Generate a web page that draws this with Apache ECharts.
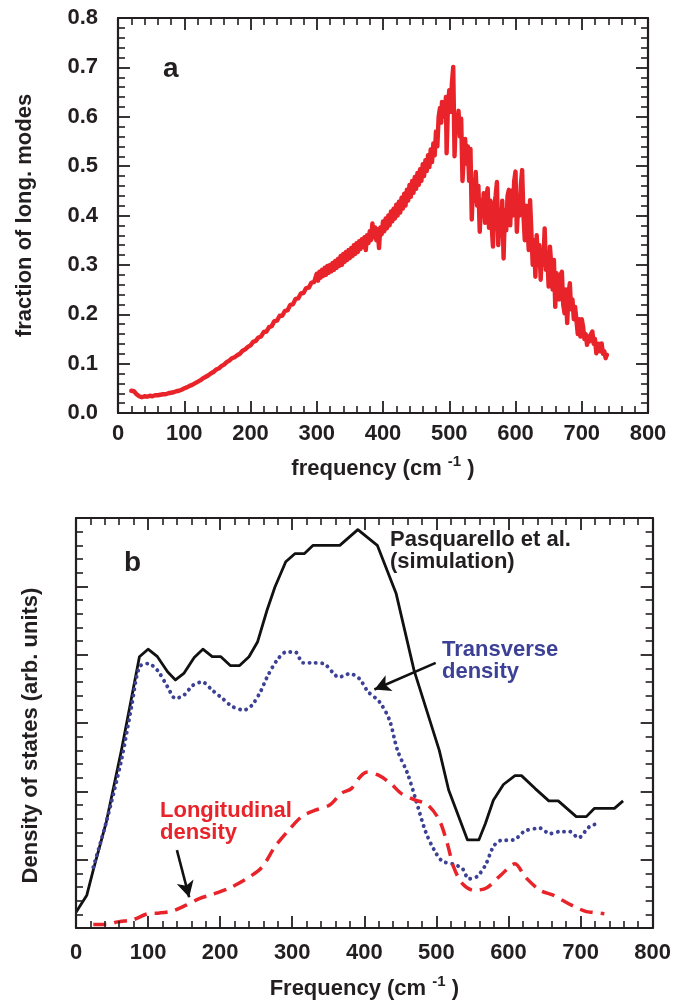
<!DOCTYPE html>
<html>
<head>
<meta charset="utf-8">
<script src="https://cdn.jsdelivr.net/npm/echarts@6/dist/echarts.min.js"></script>
<style>
html,body{margin:0;padding:0;background:#fff;}
#chart{width:674px;height:1003px;}
</style>
</head>
<body>
<div id="chart"></div>
<script>
// ---------- Panel a: fraction of longitudinal modes ----------
var fracData = [
[20,0.045],[24,0.044],[28,0.038],[32,0.034],[36,0.032],[40,0.034],[44,0.033],[48,0.035],[52,0.034],[56,0.036],
[60,0.036],[64,0.037],[68,0.038],[72,0.038],[76,0.040],[80,0.041],[84,0.042],[88,0.044],[92,0.045],[96,0.047],
[100,0.050],[104,0.052],[108,0.055],[112,0.057],[116,0.060],[120,0.063],[124,0.066],[128,0.070],[132,0.073],[136,0.076],
[140,0.080],[144,0.083],[148,0.088],[152,0.090],[156,0.095],[160,0.098],[164,0.103],[168,0.106],[172,0.111],[176,0.113],
[180,0.117],[184,0.120],[188,0.126],[192,0.129],[196,0.134],[200,0.137],[204,0.144],[208,0.146],[212,0.153],[216,0.155],
[220,0.164],[224,0.165],[228,0.174],[232,0.176],[236,0.186],[240,0.187],[244,0.197],[248,0.197],[252,0.207],[256,0.208],
[260,0.219],[264,0.220],[268,0.231],[272,0.232],[276,0.242],[280,0.243],[284,0.253],[288,0.254],[292,0.264],[296,0.265],
[300,0.282],[302,0.268],[304,0.286],[306,0.274],[308,0.290],[310,0.278],[312,0.294],[314,0.280],[316,0.298],[318,0.284],
[320,0.300],[322,0.287],[324,0.304],[326,0.290],[328,0.308],[330,0.294],[332,0.312],[334,0.298],[336,0.318],[338,0.300],
[340,0.322],[342,0.306],[344,0.326],[346,0.310],[348,0.330],[350,0.314],[352,0.334],[354,0.318],[356,0.340],[358,0.322],
[360,0.344],[362,0.326],[364,0.348],[366,0.332],[368,0.352],[370,0.336],[372,0.356],[374,0.330],[376,0.360],[378,0.344],
[380,0.368],[382,0.350],[384,0.384],[386,0.356],[388,0.376],[390,0.350],[392,0.372],[394,0.334],[396,0.376],[398,0.362],
[400,0.388],[402,0.368],[404,0.394],[406,0.374],[408,0.400],[410,0.380],[412,0.408],[414,0.388],[416,0.414],[418,0.394],
[420,0.422],[422,0.400],[424,0.428],[426,0.406],[428,0.436],[430,0.414],[432,0.444],[434,0.420],[436,0.452],[438,0.430],
[440,0.462],[442,0.438],[444,0.470],[446,0.446],[448,0.478],[450,0.454],[452,0.486],[454,0.462],[456,0.494],[458,0.470],
[460,0.504],[462,0.480],[464,0.512],[466,0.490],[468,0.522],[470,0.498],[472,0.534],[474,0.508],[476,0.546],[478,0.522],
[480,0.570],[482,0.540],[484,0.600],[486,0.618],[488,0.588],[489,0.630],[491,0.632],[493,0.600],[495,0.640],[496,0.526],
[498,0.620],[500,0.654],[502,0.610],[504,0.668],[506,0.701],[508,0.520],[510,0.600],[512,0.578],[514,0.612],[516,0.560],
[518,0.596],[520,0.470],[522,0.520],[524,0.555],[526,0.505],[528,0.540],[530,0.470],[532,0.535],[534,0.392],[536,0.470],
[538,0.430],[540,0.488],[542,0.420],[544,0.460],[546,0.367],[548,0.430],[550,0.400],[552,0.445],[554,0.385],[556,0.440],
[558,0.455],[560,0.375],[562,0.430],[564,0.380],[566,0.337],[568,0.420],[570,0.440],[572,0.468],[574,0.340],[576,0.400],
[578,0.360],[580,0.430],[582,0.313],[584,0.410],[586,0.370],[588,0.440],[590,0.452],[592,0.380],[594,0.450],[596,0.400],
[598,0.470],[600,0.489],[602,0.367],[604,0.420],[606,0.400],[608,0.460],[610,0.492],[612,0.400],[614,0.350],[616,0.420],
[618,0.380],[620,0.330],[622,0.431],[624,0.435],[626,0.300],[628,0.350],[630,0.276],[632,0.360],[634,0.300],[636,0.340],
[638,0.270],[640,0.330],[642,0.300],[644,0.374],[646,0.290],[648,0.320],[650,0.256],[652,0.337],[654,0.300],[656,0.250],
[658,0.310],[660,0.215],[662,0.283],[664,0.250],[666,0.230],[668,0.280],[670,0.286],[672,0.220],[674,0.202],[676,0.250],
[678,0.182],[680,0.240],[682,0.263],[684,0.210],[686,0.230],[688,0.190],[690,0.215],[692,0.215],[694,0.160],[696,0.190],
[698,0.155],[700,0.190],[702,0.175],[704,0.150],[706,0.160],[708,0.138],[710,0.155],[712,0.145],[714,0.160],[716,0.165],
[718,0.140],[720,0.150],[722,0.121],[724,0.135],[726,0.140],[728,0.125],[730,0.141],[732,0.120],[734,0.125],[736,0.111],
[738,0.118]
];

// ---------- Panel b: density of states (arb. units) ----------
var totalDOS = [
[0,0.23],[15,0.48],[24,0.85],[42,1.55],[63,2.6],[88,3.97],[100,4.08],[113,3.97],[127,3.75],[138,3.63],
[150,3.73],[164,3.96],[176,4.08],[189,3.97],[201,3.97],[214,3.84],[227,3.84],[240,3.97],[252,4.19],[265,4.65],
[276,4.99],[291,5.36],[304,5.48],[317,5.48],[329,5.6],[366,5.6],[391,5.83],[418,5.6],[444,4.9],[469,3.77],
[504,2.6],[517,2.02],[543,1.29],[559,1.29],[568,1.53],[579,1.87],[593,2.1],[609,2.23],[618,2.23],[637,2.04],
[656,1.86],[669,1.86],[694,1.63],[708,1.63],[719,1.75],[747,1.75],[759,1.86]
];
var transverseDOS = [
[24,0.89],[42,1.55],[63,2.46],[77,3.24],[88,3.82],[100,3.87],[113,3.77],[127,3.53],[138,3.36],[150,3.41],
[162,3.55],[175,3.6],[189,3.48],[203,3.36],[217,3.24],[233,3.19],[244,3.26],[256,3.46],[265,3.67],[279,3.92],
[292,4.04],[304,4.04],[315,3.88],[329,3.88],[343,3.87],[358,3.72],[364,3.67],[380,3.72],[393,3.65],[405,3.46],
[421,3.31],[435,3.04],[446,2.6],[460,2.26],[471,1.89],[485,1.41],[497,1.14],[508,0.98],[524,0.93],[536,0.87],
[545,0.72],[556,0.75],[568,0.92],[579,1.19],[589,1.28],[607,1.29],[623,1.42],[644,1.46],[657,1.38],[671,1.41],
[685,1.41],[697,1.32],[712,1.48],[727,1.54]
];
var longitudinalDOS = [
[24,0.05],[42,0.05],[58,0.09],[79,0.12],[100,0.21],[116,0.22],[134,0.25],[152,0.33],[171,0.43],[189,0.49],
[212,0.58],[235,0.71],[258,0.89],[276,1.19],[295,1.43],[313,1.63],[331,1.72],[352,1.8],[368,1.97],[382,2.04],
[394,2.21],[403,2.28],[419,2.24],[437,2.11],[451,1.97],[469,1.88],[488,1.8],[504,1.58],[515,1.24],[524,0.89],
[536,0.65],[552,0.55],[570,0.59],[589,0.77],[609,0.94],[623,0.75],[644,0.55],[662,0.48],[674,0.41],[692,0.31],
[708,0.24],[717,0.23],[733,0.21]
];
// annotation arrows in data coordinates of panel b: [from, to]
var transverseArrow = [[499,3.88],[414,3.49]];
var longitudinalArrow = [[140,1.14],[157,0.45]];

var freqTicks = [0,100,200,300,400,500,600,700,800];
var fracTicks = ['0.0','0.1','0.2','0.3','0.4','0.5','0.6','0.7','0.8'];

var FONT = "'Liberation Sans', Arial, Helvetica, sans-serif";
var INK = '#231f20';
var RED = '#e8232a';
var BLUE = '#3c4196';

function boxAxis(opts) {
  var o = {
    type: 'value',
    gridIndex: opts.grid,
    position: opts.position,
    min: opts.min, max: opts.max, interval: opts.interval,
    axisLine: {show: true, onZero: false, lineStyle: {color: INK, width: 2.2}},
    axisTick: {show: true, inside: true, length: 12, lineStyle: {color: INK, width: 1.8}},
    minorTick: {show: true, splitNumber: 5, length: 7, lineStyle: {color: INK, width: 1.6}},
    splitLine: {show: false},
    minorSplitLine: {show: false},
    axisLabel: {show: !!opts.labels, margin: opts.margin || 8,
      fontFamily: FONT, fontWeight: 'bold', fontSize: 22, color: INK,
      formatter: opts.formatter},
    z: 5
  };
  if (opts.name) {
    o.name = opts.name;
    o.nameLocation = 'middle';
    o.nameGap = opts.nameGap;
    o.nameRotate = opts.nameRotate;
    o.nameTextStyle = opts.nameTextStyle;
  }
  return o;
}

function freqName(word) {
  return '{a|' + word + ' (cm }{b|-1}{a| )}';
}
var freqNameStyle = {
  rich: {
    a: {fontFamily: FONT, fontWeight: 'bold', fontSize: 22, color: INK, lineHeight: 30},
    b: {fontFamily: FONT, fontWeight: 'bold', fontSize: 15, color: INK, lineHeight: 30, verticalAlign: 'top'}
  }
};

var chart = echarts.init(document.getElementById('chart'), null, {renderer: 'canvas'});
var option = {
  animation: false,
  backgroundColor: '#fff',
  grid: [
    {left: 118, top: 18, width: 530, height: 395},
    {left: 76, top: 518, width: 581, height: 410}
  ],
  xAxis: [
    boxAxis({grid: 0, position: 'bottom', min: 0, max: 800, interval: 100, labels: true, margin: 10,
      formatter: function (v) { return freqTicks.indexOf(v) >= 0 ? String(v) : ''; },
      name: freqName('frequency'), nameGap: 41, nameTextStyle: freqNameStyle}),
    boxAxis({grid: 0, position: 'top', min: 0, max: 800, interval: 100}),
    boxAxis({grid: 1, position: 'bottom', min: 0, max: 800, interval: 100, labels: true, margin: 14,
      formatter: function (v) { return freqTicks.indexOf(v) >= 0 ? String(v) : ''; },
      name: freqName('Frequency'), nameGap: 46, nameTextStyle: freqNameStyle}),
    boxAxis({grid: 1, position: 'top', min: 0, max: 800, interval: 100})
  ],
  yAxis: [
    boxAxis({grid: 0, position: 'left', min: 0, max: 0.8, interval: 0.1, labels: true, margin: 20,
      formatter: function (v) { return fracTicks[Math.round(v * 10)]; },
      name: 'fraction of long. modes', nameGap: 82, nameRotate: 90,
      nameTextStyle: {fontFamily: FONT, fontWeight: 'bold', fontSize: 22, color: INK}}),
    boxAxis({grid: 0, position: 'right', min: 0, max: 0.8, interval: 0.1}),
    boxAxis({grid: 1, position: 'left', min: 0, max: 6, interval: 1,
      name: 'Density of states (arb. units)', nameGap: 34, nameRotate: 90,
      nameTextStyle: {fontFamily: FONT, fontWeight: 'bold', fontSize: 22, color: INK, padding: [0, 25, 0, 0]}}),
    boxAxis({grid: 1, position: 'right', min: 0, max: 6, interval: 1})
  ],
  series: [
    {
      type: 'line', xAxisIndex: 0, yAxisIndex: 0, data: fracData,
      showSymbol: false, symbol: 'none',
      lineStyle: {color: RED, width: 4.4, join: 'round', cap: 'round'}
    },
    {
      type: 'line', xAxisIndex: 2, yAxisIndex: 2, data: totalDOS,
      showSymbol: false, symbol: 'none',
      lineStyle: {color: '#111', width: 2.8, join: 'round'}
    },
    {
      type: 'line', xAxisIndex: 2, yAxisIndex: 2, data: transverseDOS,
      showSymbol: false, symbol: 'none', smooth: 0.3,
      lineStyle: {color: BLUE, width: 3.9, type: [0.1, 6.2], cap: 'round'},
      markLine: {
        silent: true, symbol: ['none', 'arrow'], symbolSize: [13, 16],
        label: {show: false},
        lineStyle: {color: '#111', width: 2.6, type: 'solid'},
        data: [[{coord: transverseArrow[0]}, {coord: transverseArrow[1]}]]
      }
    },
    {
      type: 'line', xAxisIndex: 2, yAxisIndex: 2, data: longitudinalDOS,
      showSymbol: false, symbol: 'none', smooth: 0.3,
      lineStyle: {color: RED, width: 3.5, type: [13, 8]},
      markLine: {
        silent: true, symbol: ['none', 'arrow'], symbolSize: [13, 16],
        label: {show: false},
        lineStyle: {color: '#111', width: 2.6, type: 'solid'},
        data: [[{coord: longitudinalArrow[0]}, {coord: longitudinalArrow[1]}]]
      }
    }
  ],
  graphic: [
    {type: 'text', left: 163, top: 55, style: {text: 'a', font: "bold 28px " + FONT, fill: INK}},
    {type: 'text', left: 124, top: 549, style: {text: 'b', font: "bold 28px " + FONT, fill: INK}},
    {type: 'text', left: 390, top: 529, style: {text: 'Pasquarello et al.\n(simulation)', font: "bold 22px " + FONT, fill: INK, lineHeight: 22}},
    {type: 'text', left: 442, top: 639, style: {text: 'Transverse\ndensity', font: "bold 22px " + FONT, fill: BLUE, lineHeight: 22}},
    {type: 'text', left: 160, top: 800, style: {text: 'Longitudinal\ndensity', font: "bold 22px " + FONT, fill: RED, lineHeight: 22}}
  ]
};
chart.setOption(option);
</script>
</body>
</html>
